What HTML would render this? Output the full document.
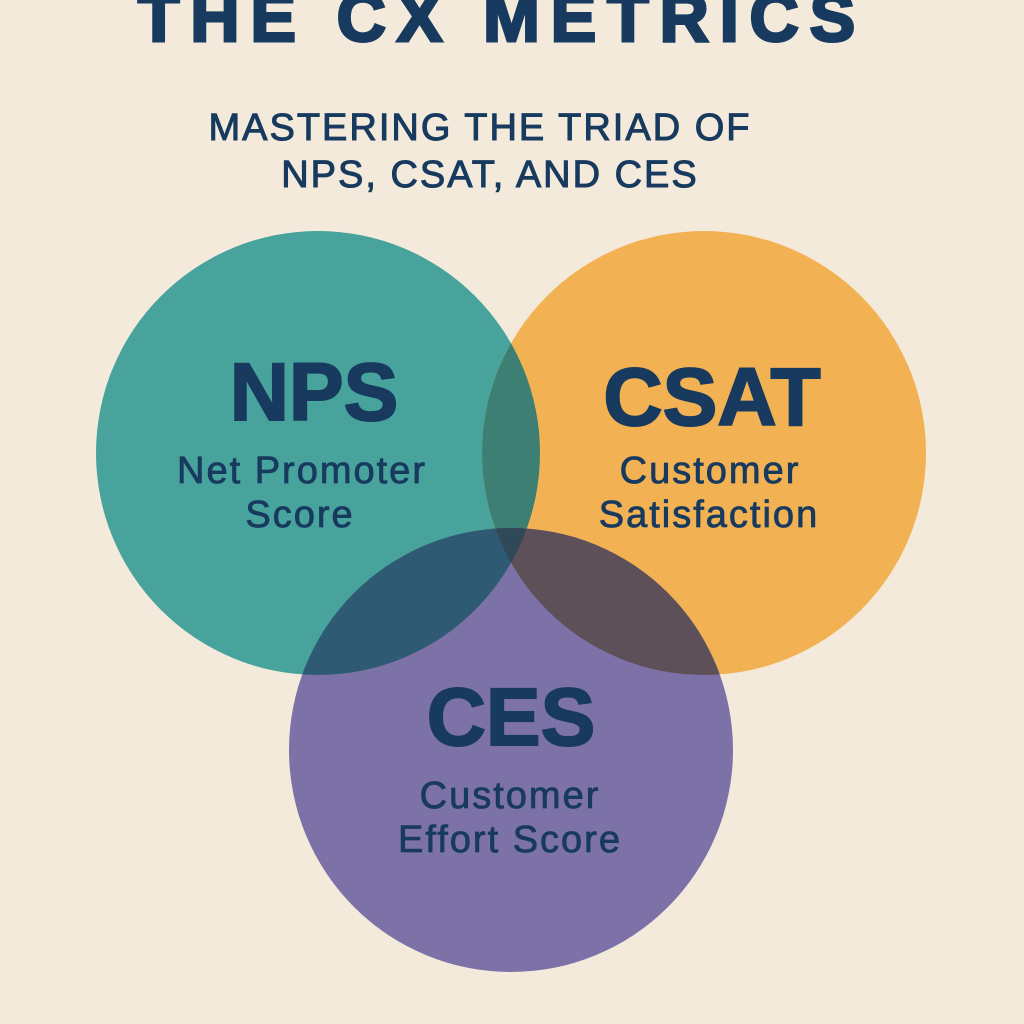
<!DOCTYPE html>
<html><head><style>
html,body{margin:0;padding:0;background:#f3eadc;}
body{width:1024px;height:1024px;overflow:hidden;position:relative;font-family:"Liberation Sans",sans-serif;color:#173a5e;}
svg{position:absolute;left:0;top:0;}
</style></head><body>
<svg width="1024" height="1024" viewBox="0 0 1024 1024">
<defs>
<clipPath id="a"><circle cx="318" cy="453" r="222"/></clipPath>
<clipPath id="b"><circle cx="704" cy="453" r="222"/></clipPath>
<clipPath id="c"><circle cx="511" cy="750" r="222"/></clipPath>
</defs>
<rect width="1024" height="1024" fill="#f3eadc"/>
<circle cx="318" cy="453" r="222" fill="#48a39c"/>
<circle cx="704" cy="453" r="222" fill="#f2b254"/>
<circle cx="511" cy="750" r="222" fill="#7d72a8"/>
<g clip-path="url(#a)"><circle cx="704" cy="453" r="222" fill="#3d7f73"/><circle cx="511" cy="750" r="222" fill="#2e5a73"/></g>
<g clip-path="url(#b)"><circle cx="511" cy="750" r="222" fill="#5e5058"/></g>
<g clip-path="url(#a)"><g clip-path="url(#b)"><circle cx="511" cy="750" r="222" fill="#2f4a56"/></g></g>
<g font-family="Liberation Sans, sans-serif" fill="#173a5e" stroke="#173a5e" text-anchor="middle">
<text x="502" y="41" font-size="68" font-weight="bold" letter-spacing="11" stroke-width="3">THE CX METRICS</text>
<text x="480" y="140" font-size="38" letter-spacing="2" stroke-width="1">MASTERING THE TRIAD OF</text>
<text x="490" y="187" font-size="38" letter-spacing="2" stroke-width="1">NPS, CSAT, AND CES</text>
<text x="314" y="420" font-size="82" font-weight="bold" stroke-width="2">NPS</text>
<text x="302" y="483" font-size="38" letter-spacing="2" stroke-width="0.8">Net Promoter</text>
<text x="300" y="527" font-size="38" letter-spacing="2" stroke-width="0.8">Score</text>
<text x="712" y="425" font-size="82" font-weight="bold" stroke-width="2">CSAT</text>
<text x="710" y="483" font-size="38" letter-spacing="2" stroke-width="0.8">Customer</text>
<text x="709" y="527" font-size="38" letter-spacing="2" stroke-width="0.8">Satisfaction</text>
<text x="511" y="745" font-size="82" font-weight="bold" stroke-width="2">CES</text>
<text x="510" y="808" font-size="38" letter-spacing="2" stroke-width="0.8">Customer</text>
<text x="510" y="852" font-size="38" letter-spacing="2" stroke-width="0.8">Effort Score</text>
</g>
</svg>
</body></html>
